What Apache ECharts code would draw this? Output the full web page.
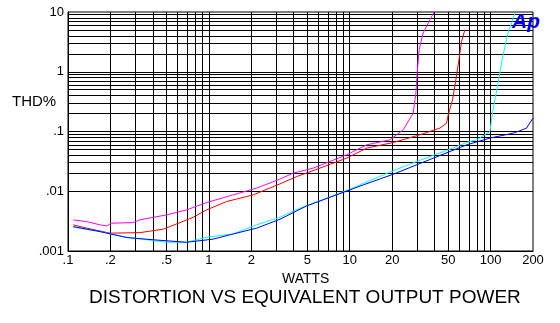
<!DOCTYPE html>
<html><head><meta charset="utf-8">
<script src="https://cdn.jsdelivr.net/npm/echarts@6/dist/echarts.min.js"></script>
<style>html,body{margin:0;padding:0;background:#fff}#c{width:560px;height:323px}</style>
</head><body><div id="c"></div>
<script>
const xTickValues = [0.1, 0.2, 0.5, 1, 2, 5, 10, 20, 50, 100, 200];
const xTickLabels = ['.1', '.2', '.5', '1', '2', '5', '10', '20', '50', '100', '200'];
const yTickLabels = ['.001', '.01', '.1', '1', '10'];

const magentaW   = [0.109, 0.136, 0.169, 0.188, 0.204, 0.291, 0.324, 0.502, 0.695, 0.964, 1.49, 2.18, 3.2, 3.97, 5.51, 9.5, 13.2, 19.3, 24.0, 28.2, 29.5, 30.1, 31.1, 33.2, 37.1, 39.6];
const magentaTHD = [0.00332, 0.0031, 0.00274, 0.00263, 0.00292, 0.00299, 0.00332, 0.00403, 0.00488, 0.00647, 0.00871, 0.01127, 0.0160, 0.0201, 0.0244, 0.0407, 0.0598, 0.0726, 0.107, 0.203, 0.44, 0.95, 2.34, 4.45, 7.43, 9.85];

const redW   = [0.109, 0.136, 0.199, 0.324, 0.475, 0.624, 0.775, 0.964, 1.337, 2.07, 3.2, 4.2, 6.15, 9.5, 13.2, 20.4, 31.5, 43.7, 48.7, 50.0, 53.7, 56.7, 59.6, 62.2, 65.7];
const redTHD = [0.00274, 0.00241, 0.00199, 0.00203, 0.00232, 0.00299, 0.00368, 0.00488, 0.00673, 0.00871, 0.0133, 0.0176, 0.0244, 0.0358, 0.0527, 0.0655, 0.0881, 0.114, 0.138, 0.190, 0.34, 0.734, 1.59, 3.22, 5.06];

const cyanW   = [0.109, 0.169, 0.261, 0.502, 0.695, 0.964, 1.49, 2.18, 3.2, 4.43, 6.86, 10, 19.3, 29.8, 48.7, 67.6, 79.6, 98.9, 104, 113, 122, 133, 149];
const cyanTHD = [0.00251, 0.00211, 0.00170, 0.0014, 0.0014, 0.0017, 0.00193, 0.00274, 0.00368, 0.00521, 0.00766, 0.01084, 0.0209, 0.0314, 0.0481, 0.0655, 0.0726, 0.100, 0.231, 0.647, 1.80, 4.45, 9.62];

const blueW   = [0.109, 0.169, 0.261, 0.403, 0.695, 1.074, 1.49, 2.18, 3.2, 4.95, 8.07, 12.5, 20.4, 39.2, 67.6, 98.9, 145, 161, 180, 200];
const blueTHD = [0.00256, 0.00211, 0.00168, 0.00154, 0.0014, 0.00158, 0.00193, 0.00241, 0.0034, 0.00569, 0.00871, 0.0128, 0.0193, 0.0358, 0.0598, 0.0775, 0.094, 0.1028, 0.114, 0.168];

const FONT = '"Liberation Sans", Arial, sans-serif';

function pairs(xs, ys) { return xs.map((x, i) => [x, ys[i]]); }

// log grid lines (1..9 per decade)
const xGrid = [];
[0.1, 1, 10].forEach(d => { for (let k = 1; k <= 9; k++) { if (!(d === 0.1 && k === 1)) xGrid.push(+(d * k).toPrecision(3)); } });
xGrid.push(100);
const yGrid = [];
[0.001, 0.01, 0.1, 1].forEach(d => { for (let k = 1; k <= 9; k++) { if (!(d === 0.001 && k === 1)) yGrid.push(+(d * k).toPrecision(3)); } });

const chart = echarts.init(document.getElementById('c'), null, { renderer: 'canvas' });

function lineSeries(name, color, xs, ys) {
  return {
    name, type: 'line', data: pairs(xs, ys), showSymbol: false, symbol: 'none',
    lineStyle: { color, width: 1 }, itemStyle: { color }, z: 5, animation: false, silent: true
  };
}

chart.setOption({
  animation: false,
  backgroundColor: '#fff',
  grid: { left: 68, top: 12, width: 465, height: 239, show: true, borderColor: '#000', borderWidth: 1 },
  xAxis: {
    type: 'log', logBase: 10, min: 0.1, max: 200,
    axisLine: { show: true, lineStyle: { color: '#000', width: 1 } },
    axisTick: { show: false }, splitLine: { show: false }, axisLabel: { show: false }
  },
  yAxis: {
    type: 'log', logBase: 10, min: 0.001, max: 10,
    axisLine: { show: true, lineStyle: { color: '#000', width: 1 } },
    axisTick: { show: false }, splitLine: { show: false },
    axisLabel: { color: '#000', fontFamily: FONT, fontSize: 13, margin: 4, formatter: (v, i) => yTickLabels[i] }
  },
  graphic: [
    { type: 'text', left: 12, top: 94, style: { text: 'THD%', font: '15px ' + FONT, fill: '#000' } },
    { type: 'text', left: 282, top: 272, style: { text: 'WATTS', font: '14px ' + FONT, fill: '#000' } },
    { type: 'text', left: 89, top: 288, style: { text: 'DISTORTION VS EQUIVALENT OUTPUT POWER', font: '19px ' + FONT, fill: '#000' } },
    { type: 'text', left: 512, top: 12, z: 10, style: { text: 'Ap', font: 'italic bold 21px ' + FONT, fill: '#0000ff' } }
  ],
  series: [
    {
      type: 'line', data: [], z: 1, silent: true,
      markLine: {
        silent: true, symbol: ['none', 'none'], animation: false,
        label: { show: false }, emphasis: { disabled: true },
        lineStyle: { color: '#000', width: 1, type: 'solid' },
        data: xGrid.map(v => ({ xAxis: v })).concat(yGrid.map(v => ({ yAxis: v })))
      }
    },
    {
      type: 'line', data: [], z: 1, silent: true,
      markLine: {
        silent: true, symbol: ['none', 'none'], animation: false, emphasis: { disabled: true },
        lineStyle: { color: 'rgba(0,0,0,0)', width: 1, type: 'solid' },
        data: xTickValues.map((v, i) => ({
          xAxis: v,
          label: { show: true, position: 'start', distance: 3, formatter: xTickLabels[i], color: '#000', opacity: 1, fontFamily: FONT, fontSize: 13 }
        }))
      }
    },
    lineSeries('magenta', '#ff00ff', magentaW, magentaTHD),
    lineSeries('red', '#ff0000', redW, redTHD),
    lineSeries('cyan', '#00ffff', cyanW, cyanTHD),
    lineSeries('blue', '#0000ff', blueW, blueTHD)
  ]
});
</script>
</body></html>
